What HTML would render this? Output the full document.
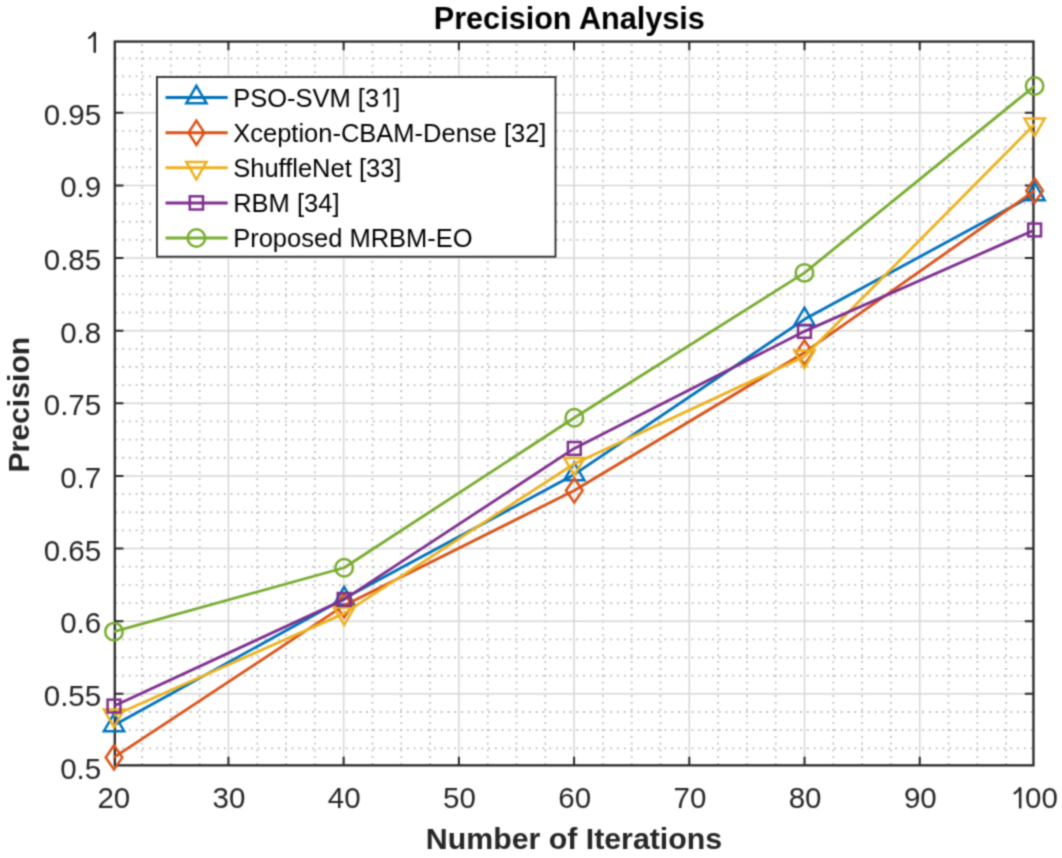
<!DOCTYPE html>
<html><head><meta charset="utf-8"><style>
html,body{margin:0;padding:0;background:#fff;}
svg{display:block;}
text{font-family:"Liberation Sans", sans-serif;}
</style></head><body>
<svg width="1062" height="858" viewBox="0 0 1062 858">
<defs><filter id="soft" x="0" y="0" width="1062" height="858" filterUnits="userSpaceOnUse" color-interpolation-filters="sRGB"><feConvolveMatrix order="5" kernelMatrix="0.00009 0.00198 0.00548 0.00198 0.00009 0.00198 0.04220 0.11707 0.04220 0.00198 0.00548 0.11707 0.32480 0.11707 0.00548 0.00198 0.04220 0.11707 0.04220 0.00198 0.00009 0.00198 0.00548 0.00198 0.00009" edgeMode="duplicate"/></filter></defs>
<g filter="url(#soft)">
<rect x="0" y="0" width="1062" height="858" fill="#fff"/>
<g transform="translate(0 0.45)">
<g stroke="#bdbdbd" stroke-width="1.8" stroke-dasharray="1.8 4.98" stroke-dashoffset="6.23" fill="none"><line x1="142.00" y1="764.90" x2="142.00" y2="41.10"/><line x1="170.81" y1="764.90" x2="170.81" y2="41.10"/><line x1="199.62" y1="764.90" x2="199.62" y2="41.10"/><line x1="257.23" y1="764.90" x2="257.23" y2="41.10"/><line x1="286.03" y1="764.90" x2="286.03" y2="41.10"/><line x1="314.83" y1="764.90" x2="314.83" y2="41.10"/><line x1="372.44" y1="764.90" x2="372.44" y2="41.10"/><line x1="401.25" y1="764.90" x2="401.25" y2="41.10"/><line x1="430.06" y1="764.90" x2="430.06" y2="41.10"/><line x1="487.67" y1="764.90" x2="487.67" y2="41.10"/><line x1="516.47" y1="764.90" x2="516.47" y2="41.10"/><line x1="545.27" y1="764.90" x2="545.27" y2="41.10"/><line x1="602.88" y1="764.90" x2="602.88" y2="41.10"/><line x1="631.69" y1="764.90" x2="631.69" y2="41.10"/><line x1="660.50" y1="764.90" x2="660.50" y2="41.10"/><line x1="718.11" y1="764.90" x2="718.11" y2="41.10"/><line x1="746.91" y1="764.90" x2="746.91" y2="41.10"/><line x1="775.72" y1="764.90" x2="775.72" y2="41.10"/><line x1="833.33" y1="764.90" x2="833.33" y2="41.10"/><line x1="862.13" y1="764.90" x2="862.13" y2="41.10"/><line x1="890.94" y1="764.90" x2="890.94" y2="41.10"/><line x1="948.55" y1="764.90" x2="948.55" y2="41.10"/><line x1="977.35" y1="764.90" x2="977.35" y2="41.10"/><line x1="1006.16" y1="764.90" x2="1006.16" y2="41.10"/><line x1="114.80" y1="747.84" x2="1033.45" y2="747.84"/><line x1="114.80" y1="729.69" x2="1033.45" y2="729.69"/><line x1="114.80" y1="711.53" x2="1033.45" y2="711.53"/><line x1="114.80" y1="675.21" x2="1033.45" y2="675.21"/><line x1="114.80" y1="657.06" x2="1033.45" y2="657.06"/><line x1="114.80" y1="638.90" x2="1033.45" y2="638.90"/><line x1="114.80" y1="602.58" x2="1033.45" y2="602.58"/><line x1="114.80" y1="584.43" x2="1033.45" y2="584.43"/><line x1="114.80" y1="566.27" x2="1033.45" y2="566.27"/><line x1="114.80" y1="529.95" x2="1033.45" y2="529.95"/><line x1="114.80" y1="511.80" x2="1033.45" y2="511.80"/><line x1="114.80" y1="493.64" x2="1033.45" y2="493.64"/><line x1="114.80" y1="457.32" x2="1033.45" y2="457.32"/><line x1="114.80" y1="439.17" x2="1033.45" y2="439.17"/><line x1="114.80" y1="421.01" x2="1033.45" y2="421.01"/><line x1="114.80" y1="384.69" x2="1033.45" y2="384.69"/><line x1="114.80" y1="366.54" x2="1033.45" y2="366.54"/><line x1="114.80" y1="348.38" x2="1033.45" y2="348.38"/><line x1="114.80" y1="312.06" x2="1033.45" y2="312.06"/><line x1="114.80" y1="293.91" x2="1033.45" y2="293.91"/><line x1="114.80" y1="275.75" x2="1033.45" y2="275.75"/><line x1="114.80" y1="239.43" x2="1033.45" y2="239.43"/><line x1="114.80" y1="221.28" x2="1033.45" y2="221.28"/><line x1="114.80" y1="203.12" x2="1033.45" y2="203.12"/><line x1="114.80" y1="166.80" x2="1033.45" y2="166.80"/><line x1="114.80" y1="148.65" x2="1033.45" y2="148.65"/><line x1="114.80" y1="130.49" x2="1033.45" y2="130.49"/><line x1="114.80" y1="94.17" x2="1033.45" y2="94.17"/><line x1="114.80" y1="76.02" x2="1033.45" y2="76.02"/><line x1="114.80" y1="57.86" x2="1033.45" y2="57.86"/></g>
<g stroke="#d6d6d6" stroke-width="1.5" fill="none"><line x1="228.42" y1="41.10" x2="228.42" y2="764.90"/><line x1="343.64" y1="41.10" x2="343.64" y2="764.90"/><line x1="458.86" y1="41.10" x2="458.86" y2="764.90"/><line x1="574.08" y1="41.10" x2="574.08" y2="764.90"/><line x1="689.30" y1="41.10" x2="689.30" y2="764.90"/><line x1="804.52" y1="41.10" x2="804.52" y2="764.90"/><line x1="919.74" y1="41.10" x2="919.74" y2="764.90"/><line x1="114.80" y1="693.37" x2="1033.45" y2="693.37"/><line x1="114.80" y1="620.74" x2="1033.45" y2="620.74"/><line x1="114.80" y1="548.11" x2="1033.45" y2="548.11"/><line x1="114.80" y1="475.48" x2="1033.45" y2="475.48"/><line x1="114.80" y1="402.85" x2="1033.45" y2="402.85"/><line x1="114.80" y1="330.22" x2="1033.45" y2="330.22"/><line x1="114.80" y1="257.59" x2="1033.45" y2="257.59"/><line x1="114.80" y1="184.96" x2="1033.45" y2="184.96"/><line x1="114.80" y1="112.33" x2="1033.45" y2="112.33"/></g>
<path d="M228.42 764.90V756.30M228.42 41.10V49.70M343.64 764.90V756.30M343.64 41.10V49.70M458.86 764.90V756.30M458.86 41.10V49.70M574.08 764.90V756.30M574.08 41.10V49.70M689.30 764.90V756.30M689.30 41.10V49.70M804.52 764.90V756.30M804.52 41.10V49.70M919.74 764.90V756.30M919.74 41.10V49.70M114.80 693.37H123.40M1033.45 693.37H1024.85M114.80 620.74H123.40M1033.45 620.74H1024.85M114.80 548.11H123.40M1033.45 548.11H1024.85M114.80 475.48H123.40M1033.45 475.48H1024.85M114.80 402.85H123.40M1033.45 402.85H1024.85M114.80 330.22H123.40M1033.45 330.22H1024.85M114.80 257.59H123.40M1033.45 257.59H1024.85M114.80 184.96H123.40M1033.45 184.96H1024.85M114.80 112.33H123.40M1033.45 112.33H1024.85" stroke="#262626" stroke-width="2.0" fill="none"/>
<rect x="114.80" y="41.10" width="918.65" height="723.80" fill="none" stroke="#262626" stroke-width="2.3"/>
<polyline points="114.00,724.90 344.15,598.10 574.30,474.00 804.45,318.90 1034.60,194.00" fill="none" stroke="#0072BD" stroke-width="2.80" stroke-linejoin="round" stroke-linecap="butt"/>
<polygon points="114.00,713.20 124.13,730.75 103.87,730.75" fill="none" stroke="#0072BD" stroke-width="2.50" stroke-linejoin="miter"/>
<polygon points="344.15,586.40 354.28,603.95 334.02,603.95" fill="none" stroke="#0072BD" stroke-width="2.50" stroke-linejoin="miter"/>
<polygon points="574.30,462.30 584.43,479.85 564.17,479.85" fill="none" stroke="#0072BD" stroke-width="2.50" stroke-linejoin="miter"/>
<polygon points="804.45,307.20 814.58,324.75 794.32,324.75" fill="none" stroke="#0072BD" stroke-width="2.50" stroke-linejoin="miter"/>
<polygon points="1034.60,182.30 1044.73,199.85 1024.47,199.85" fill="none" stroke="#0072BD" stroke-width="2.50" stroke-linejoin="miter"/>
<polyline points="114.00,757.00 344.15,605.00 574.30,490.00 804.45,352.00 1034.60,190.20" fill="none" stroke="#D95319" stroke-width="2.80" stroke-linejoin="round" stroke-linecap="butt"/>
<polygon points="114.00,744.80 122.30,757.00 114.00,769.20 105.70,757.00" fill="none" stroke="#D95319" stroke-width="2.50" stroke-linejoin="miter"/>
<polygon points="344.15,592.80 352.45,605.00 344.15,617.20 335.85,605.00" fill="none" stroke="#D95319" stroke-width="2.50" stroke-linejoin="miter"/>
<polygon points="574.30,477.80 582.60,490.00 574.30,502.20 566.00,490.00" fill="none" stroke="#D95319" stroke-width="2.50" stroke-linejoin="miter"/>
<polygon points="804.45,339.80 812.75,352.00 804.45,364.20 796.15,352.00" fill="none" stroke="#D95319" stroke-width="2.50" stroke-linejoin="miter"/>
<polygon points="1034.60,178.00 1042.90,190.20 1034.60,202.40 1026.30,190.20" fill="none" stroke="#D95319" stroke-width="2.50" stroke-linejoin="miter"/>
<polyline points="114.00,715.00 344.15,612.90 574.30,463.30 804.45,356.00 1034.60,123.90" fill="none" stroke="#EDB120" stroke-width="2.80" stroke-linejoin="round" stroke-linecap="butt"/>
<polygon points="114.00,726.70 124.13,709.15 103.87,709.15" fill="none" stroke="#EDB120" stroke-width="2.50" stroke-linejoin="miter"/>
<polygon points="344.15,624.60 354.28,607.05 334.02,607.05" fill="none" stroke="#EDB120" stroke-width="2.50" stroke-linejoin="miter"/>
<polygon points="574.30,475.00 584.43,457.45 564.17,457.45" fill="none" stroke="#EDB120" stroke-width="2.50" stroke-linejoin="miter"/>
<polygon points="804.45,367.70 814.58,350.15 794.32,350.15" fill="none" stroke="#EDB120" stroke-width="2.50" stroke-linejoin="miter"/>
<polygon points="1034.60,135.60 1044.73,118.05 1024.47,118.05" fill="none" stroke="#EDB120" stroke-width="2.50" stroke-linejoin="miter"/>
<polyline points="114.00,705.60 344.15,599.00 574.30,448.00 804.45,330.90 1034.60,229.50" fill="none" stroke="#7E2F8E" stroke-width="2.80" stroke-linejoin="round" stroke-linecap="butt"/>
<rect x="107.60" y="699.20" width="12.80" height="12.80" fill="none" stroke="#7E2F8E" stroke-width="2.50"/>
<rect x="337.75" y="592.60" width="12.80" height="12.80" fill="none" stroke="#7E2F8E" stroke-width="2.50"/>
<rect x="567.90" y="441.60" width="12.80" height="12.80" fill="none" stroke="#7E2F8E" stroke-width="2.50"/>
<rect x="798.05" y="324.50" width="12.80" height="12.80" fill="none" stroke="#7E2F8E" stroke-width="2.50"/>
<rect x="1028.20" y="223.10" width="12.80" height="12.80" fill="none" stroke="#7E2F8E" stroke-width="2.50"/>
<polyline points="114.00,631.20 344.15,567.30 574.30,417.30 804.45,272.40 1034.60,85.60" fill="none" stroke="#77AC30" stroke-width="2.80" stroke-linejoin="round" stroke-linecap="butt"/>
<circle cx="114.00" cy="631.20" r="8.7" fill="none" stroke="#77AC30" stroke-width="2.50"/>
<circle cx="344.15" cy="567.30" r="8.7" fill="none" stroke="#77AC30" stroke-width="2.50"/>
<circle cx="574.30" cy="417.30" r="8.7" fill="none" stroke="#77AC30" stroke-width="2.50"/>
<circle cx="804.45" cy="272.40" r="8.7" fill="none" stroke="#77AC30" stroke-width="2.50"/>
<circle cx="1034.60" cy="85.60" r="8.7" fill="none" stroke="#77AC30" stroke-width="2.50"/>
<rect x="156.95" y="76.55" width="398.55" height="179.70" fill="#fff" stroke="#262626" stroke-width="1.8"/>
<line x1="165.5" y1="97.05" x2="227.7" y2="97.05" stroke="#0072BD" stroke-width="3.00"/>
<polygon points="196.40,85.35 206.53,102.90 186.27,102.90" fill="none" stroke="#0072BD" stroke-width="2.50" stroke-linejoin="miter"/>
<text x="233.2" y="106.35" font-size="25.5" fill="#000">PSO-SVM [3</text>
<path d="M388.53 88.35V106.35" stroke="#000" stroke-width="2.15" fill="none"/><path d="M388.20 88.85C386.60 91.45 385.10 92.35 383.70 93.15" stroke="#000" stroke-width="2.0" fill="none" stroke-linecap="round"/>
<text x="393.34" y="106.35" font-size="25.5" fill="#000">]</text>
<line x1="165.5" y1="132.35" x2="227.7" y2="132.35" stroke="#D95319" stroke-width="3.00"/>
<polygon points="196.40,120.15 204.30,132.35 196.40,144.55 188.50,132.35" fill="none" stroke="#D95319" stroke-width="2.50" stroke-linejoin="miter"/>
<text x="233.2" y="141.65" font-size="25.5" fill="#000">Xception-CBAM-Dense [32]</text>
<line x1="165.5" y1="167.35" x2="227.7" y2="167.35" stroke="#EDB120" stroke-width="3.00"/>
<polygon points="196.40,179.05 206.53,161.50 186.27,161.50" fill="none" stroke="#EDB120" stroke-width="2.50" stroke-linejoin="miter"/>
<text x="233.2" y="176.65" font-size="25.5" fill="#000">ShuffleNet [33]</text>
<line x1="165.5" y1="202.45" x2="227.7" y2="202.45" stroke="#7E2F8E" stroke-width="3.00"/>
<rect x="189.80" y="195.85" width="13.20" height="13.20" fill="none" stroke="#7E2F8E" stroke-width="2.50"/>
<text x="233.2" y="211.75" font-size="25.5" fill="#000">RBM [34]</text>
<line x1="165.5" y1="237.55" x2="227.7" y2="237.55" stroke="#77AC30" stroke-width="3.00"/>
<circle cx="196.40" cy="237.55" r="8.7" fill="none" stroke="#77AC30" stroke-width="2.50"/>
<text x="233.2" y="246.85" font-size="25.5" fill="#000">Proposed MRBM-EO</text>
<g font-size="29.5" fill="#262626"><text x="113.80" y="807.9" text-anchor="middle">20</text><text x="229.02" y="807.9" text-anchor="middle">30</text><text x="344.24" y="807.9" text-anchor="middle">40</text><text x="459.46" y="807.9" text-anchor="middle">50</text><text x="574.68" y="807.9" text-anchor="middle">60</text><text x="689.90" y="807.9" text-anchor="middle">70</text><text x="805.12" y="807.9" text-anchor="middle">80</text><text x="920.34" y="807.9" text-anchor="middle">90</text><text x="1025.0" y="807.9">00</text><text x="101.20" y="778.10" text-anchor="end">0.5</text><text x="101.20" y="705.47" text-anchor="end">0.55</text><text x="101.20" y="632.84" text-anchor="end">0.6</text><text x="101.20" y="560.21" text-anchor="end">0.65</text><text x="101.20" y="487.58" text-anchor="end">0.7</text><text x="101.20" y="414.95" text-anchor="end">0.75</text><text x="101.20" y="342.32" text-anchor="end">0.8</text><text x="101.20" y="269.69" text-anchor="end">0.85</text><text x="101.20" y="197.06" text-anchor="end">0.9</text><text x="101.20" y="124.43" text-anchor="end">0.95</text></g>
<path d="M94.75 31.80V52.30" stroke="#262626" stroke-width="2.5" fill="none"/><path d="M94.40 32.40C92.50 35.40 90.80 36.40 89.20 37.40" stroke="#262626" stroke-width="2.3" fill="none" stroke-linecap="round"/>
<path d="M1020.15 787.20V807.90" stroke="#262626" stroke-width="2.5" fill="none"/><path d="M1019.80 787.80C1017.90 790.80 1016.20 791.80 1014.60 792.80" stroke="#262626" stroke-width="2.3" fill="none" stroke-linecap="round"/>
<text x="433.8" y="28.3" font-size="30.6" font-weight="bold" fill="#000">Precision Analysis</text>
<text x="574.0" y="848.9" font-size="30.3" font-weight="bold" fill="#262626" text-anchor="middle">Number of Iterations</text>
<text transform="translate(29.0,404.2) rotate(-90)" x="0" y="0" font-size="30.2" font-weight="bold" fill="#262626" text-anchor="middle">Precision</text>
</g></g></svg>
</body></html>
